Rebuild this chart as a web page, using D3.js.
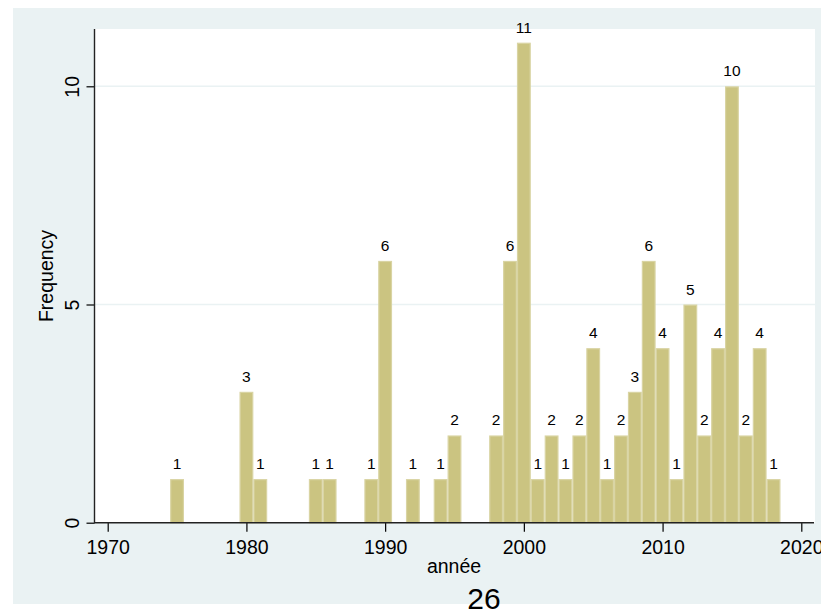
<!DOCTYPE html>
<html>
<head>
<meta charset="utf-8">
<script src="https://cdn.jsdelivr.net/npm/d3@7"></script>
<style>
  body { margin: 0; background: #fff; }
  text { font-family: "Liberation Sans", Arial, sans-serif; fill: #000; }
</style>
</head>
<body>
<div id="chart"></div>
<script>
// one bar per year
const years  = [1975, 1980, 1981, 1985, 1986, 1989, 1990, 1992, 1994, 1995,
                1998, 1999, 2000, 2001, 2002, 2003, 2004, 2005, 2006, 2007,
                2008, 2009, 2010, 2011, 2012, 2013, 2014, 2015, 2016, 2017, 2018];
const counts = [1, 3, 1, 1, 1, 1, 6, 1, 1, 2,
                2, 6, 11, 1, 2, 1, 2, 4, 1, 2,
                3, 6, 4, 1, 5, 2, 4, 10, 2, 4, 1];
const xTicks = [1970, 1980, 1990, 2000, 2010, 2020];
const yTicks = [0, 5, 10];
const xTitle = "année";
const yTitle = "Frequency";
const note = "26";

const bars = years.map((y, i) => ({ year: y, n: counts[i] }));

width = 821
height = 612

const svg = d3.select("#chart")
    .append("svg")
    .attr("width", width)
    .attr("height", height);

// graph region + plot region
svg.append("rect")
    .attr("x", 13).attr("y", 8)
    .attr("width", 808).attr("height", 596)
    .attr("fill", "#eaf2f3");

const plot = { left: 94.5, right: 815, top: 29, bottom: 522.5 };

svg.append("rect")
    .attr("x", plot.left).attr("y", plot.top)
    .attr("width", plot.right - plot.left).attr("height", plot.bottom - plot.top)
    .attr("fill", "#fff");

const x = d3.scaleLinear().domain([1970, 2020]).range([107.7, 801.3]);
const y = d3.scaleLinear().domain([0, 10]).range([522.7, 86.3]);

// gridlines
svg.append("g")
    .selectAll("line")
    .data(yTicks.filter(d => d > 0))
    .enter()
    .append("line")
    .attr("x1", plot.left).attr("x2", plot.right)
    .attr("y1", d => y(d)).attr("y2", d => y(d))
    .style("stroke", "#eaf2f3")
    .style("stroke-width", 1.5);

// bars
svg.append("g")
    .selectAll("rect")
    .data(bars)
    .enter()
    .append("rect")
    .attr("x", d => x(d.year - 0.5) + 0.6)
    .attr("width", d => x(d.year + 0.5) - x(d.year - 0.5) - 1.2)
    .attr("y", d => y(d.n) + 0.6)
    .attr("height", d => y(0) - y(d.n) - 0.6)
    .style("fill", "#cbc481")
    .style("stroke", "#d9d4a3")
    .style("stroke-width", 1.2);

// bar labels
svg.append("g")
    .selectAll("text")
    .data(bars)
    .enter()
    .append("text")
    .attr("x", d => x(d.year))
    .attr("y", d => y(d.n) - 10)
    .attr("text-anchor", "middle")
    .style("font-size", "15.5px")
    .text(d => d.n);

// x axis
const xAxis = svg.append("g")
    .attr("transform", `translate(0,${y(0)})`)
    .call(d3.axisBottom(x).tickValues(xTicks).tickFormat(d3.format("d")).tickSize(9).tickSizeOuter(0));
xAxis.select(".domain").remove();
xAxis.selectAll(".tick line").style("stroke", "#000").style("stroke-width", 1.2);
xAxis.selectAll(".tick text")
    .attr("y", 31.5).attr("dy", null)
    .style("font-size", "19.5px")
    .style("font-family", '"Liberation Sans", Arial, sans-serif');
xAxis.append("line")
    .attr("x1", plot.left - 0.5).attr("x2", 814)
    .style("stroke", "#222").style("stroke-width", 1.4);

// y axis
const yAxis = svg.append("g")
    .attr("transform", `translate(${plot.left},0)`)
    .call(d3.axisLeft(y).tickValues(yTicks).tickSize(8).tickSizeOuter(0));
yAxis.select(".domain").remove();
yAxis.selectAll(".tick line").style("stroke", "#000").style("stroke-width", 1.2);
yAxis.selectAll(".tick text")
    .attr("x", null).attr("dy", null)
    .attr("text-anchor", "middle")
    .attr("transform", "translate(-16,0) rotate(-90)")
    .style("font-size", "19.5px")
    .style("font-family", '"Liberation Sans", Arial, sans-serif');
yAxis.append("line")
    .attr("y1", plot.top).attr("y2", plot.bottom + 0.5)
    .style("stroke", "#222").style("stroke-width", 1.4);

// titles
svg.append("text")
    .attr("x", 454).attr("y", 573)
    .attr("text-anchor", "middle")
    .style("font-size", "19.5px")
    .text(xTitle);

svg.append("text")
    .attr("transform", "translate(53,276) rotate(-90)")
    .attr("text-anchor", "middle")
    .style("font-size", "19.5px")
    .text(yTitle);

svg.append("text")
    .attr("x", 484).attr("y", 609)
    .attr("text-anchor", "middle")
    .style("font-size", "30px")
    .text(note);
</script>
</body>
</html>
